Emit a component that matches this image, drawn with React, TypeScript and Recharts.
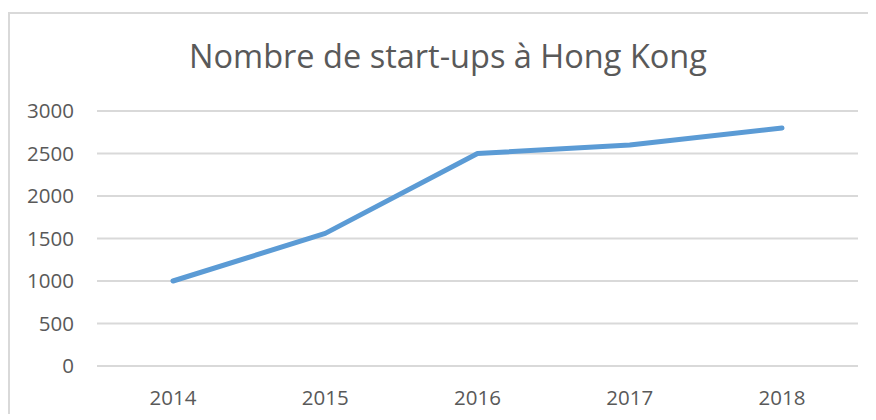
import React from "react";
import { LineChart, Line, XAxis, YAxis, CartesianGrid } from "recharts";

const years = ["2014", "2015", "2016", "2017", "2018"];
const startups = [1000, 1560, 2500, 2600, 2800];
const yTicks = [0, 500, 1000, 1500, 2000, 2500, 3000];

const data = years.map((year, i) => ({ year, value: startups[i] }));

const font = "'Open Sans', 'Liberation Sans', sans-serif";
const grey = "#595959";

export default function App() {
  return (
    <div
      style={{
        position: "relative",
        marginTop: 4,
        width: 866,
        height: 400,
        borderLeft: "2px solid #d9d9d9",
        borderTop: "2px solid #d9d9d9",
        overflow: "hidden",
        background: "#fff",
      }}
    >
      <div
        style={{
          position: "absolute",
          left: 0,
          top: 22,
          width: 876,
          textAlign: "center",
          fontFamily: font,
          fontSize: 32.5,
          color: grey,
          lineHeight: "40px",
        }}
      >
        Nombre de start-ups à Hong Kong
      </div>
      <LineChart
        width={866}
        height={406}
        data={data}
        margin={{ top: 97, right: 18, bottom: 24, left: 0 }}
      >
        <CartesianGrid vertical={false} stroke="#d9d9d9" strokeWidth={2} />
        <XAxis
          dataKey="year"
          axisLine={false}
          tickLine={false}
          tickSize={0}
          tickMargin={24}
          height={30}
          padding={{ left: 76, right: 76 }}
          tick={{ fill: grey, fontSize: 20.5, fontFamily: font }}
        />
        <YAxis
          domain={[0, 3000]}
          ticks={yTicks}
          width={87}
          axisLine={false}
          tickLine={false}
          tickSize={0}
          tickMargin={23}
          tick={{ fill: grey, fontSize: 20.5, fontFamily: font }}
        />
        <Line
          type="linear"
          dataKey="value"
          stroke="#5b9bd5"
          strokeWidth={5}
          strokeLinecap="round"
          strokeLinejoin="round"
          dot={false}
          activeDot={false}
          isAnimationActive={false}
        />
      </LineChart>
    </div>
  );
}
